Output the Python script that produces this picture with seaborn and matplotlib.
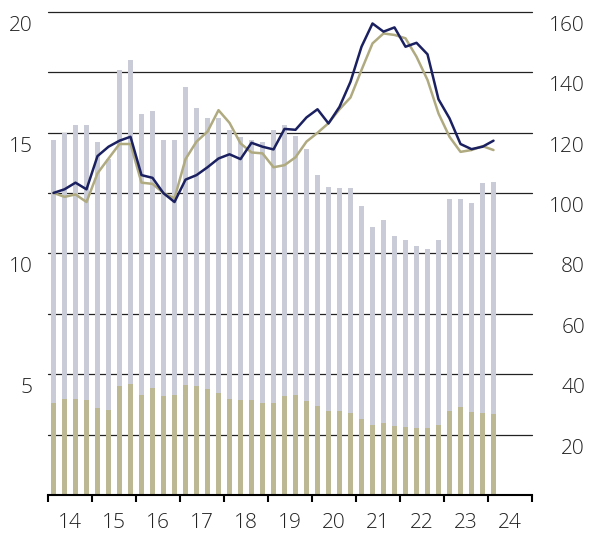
import numpy as np
import pandas as pd
import matplotlib
matplotlib.use("Agg")
import matplotlib.pyplot as plt
from matplotlib.transforms import ScaledTranslation
import seaborn as sns

# Quarterly observations, 2014Q1 - 2024Q1
quarters = pd.period_range("2014Q1", "2024Q1", freq="Q")

# Bars (left axis): total height and lower component
bar_total = [14.7, 15.0, 15.3, 15.3, 14.6, 13.9, 17.6, 18.0,
             15.75, 15.9, 14.7, 14.7, 16.9, 16.0, 15.6, 15.6,
             15.1, 14.8, 14.7, 14.6, 15.1, 15.3, 14.85, 14.3,
             13.25, 12.75, 12.7, 12.7, 11.95, 11.1, 11.4, 10.7,
             10.55, 10.3, 10.2, 10.55, 12.25, 12.25, 12.1, 12.9,
             12.95]
bar_lower = [3.81, 3.97, 3.97, 3.93, 3.6, 3.52, 4.51, 4.59,
             4.14, 4.43, 4.1, 4.14, 4.55, 4.51, 4.39, 4.22,
             3.97, 3.93, 3.93, 3.81, 3.81, 4.1, 4.14, 3.89,
             3.68, 3.47, 3.47, 3.39, 3.14, 2.9, 2.98, 2.85,
             2.81, 2.77, 2.77, 2.9, 3.47, 3.64, 3.43, 3.39,
             3.35]

# Index lines (right axis)
index_navy = [100.0, 101.2, 103.4, 101.2, 112.2, 115.3, 117.3, 118.6,
              105.9, 105.0, 99.9, 97.0, 104.4, 105.9, 108.5, 111.4,
              112.8, 111.2, 116.6, 115.3, 114.4, 121.2, 120.9, 125.0,
              127.7, 123.0, 128.5, 136.8, 148.4, 156.1, 153.4, 154.8,
              148.4, 149.7, 145.9, 131.0, 124.7, 116.2, 114.5, 115.3,
              117.3]
index_tan = [100.0, 98.7, 99.5, 97.0, 106.5, 111.4, 116.2, 116.2,
             103.4, 103.0, 100.0, 98.2, 111.2, 117.0, 120.3, 127.4,
             123.2, 116.4, 113.4, 113.1, 108.5, 109.2, 111.8, 117.0,
             119.9, 123.1, 127.7, 131.6, 140.7, 149.5, 152.8, 152.3,
             151.2, 145.1, 137.4, 126.3, 118.6, 113.6, 114.2, 115.5,
             114.2]

year_labels = ["14", "15", "16", "17", "18", "19", "20", "21", "22", "23", "24"]
left_ticks = [2.5, 5, 7.5, 10, 12.5, 15, 17.5, 20]
left_labels = ["", "5", "", "10", "", "15", "", "20"]
right_ticks = [20, 40, 60, 80, 100, 120, 140, 160]
right_labels = ["20", "40", "60", "80", "100", "120", "140", "160"]

GRAY = "#C9CBD6"
TAN = "#BCB894"
TAN_LINE = "#B0AA80"
NAVY = "#1A2060"
TEXT = "#222222"

sns.set_theme(style="white")
plt.rcParams["font.family"] = ["Open Sans", "DejaVu Sans"]
plt.rcParams["font.weight"] = "light"

df = pd.DataFrame({
    "pos": quarters.year + (quarters.quarter - 0.5) / 4,
    "total": bar_total,
    "lower": bar_lower,
    "navy": index_navy,
    "tan": index_tan,
})

fig = plt.figure(figsize=(5.89, 5.33), dpi=100)
ax = fig.add_axes([48 / 589, 1 - 495 / 533, (532 - 48) / 589, (495 - 11.7) / 533])
ax2 = ax.twinx()

sns.barplot(data=df, x="pos", y="total", native_scale=True, width=0.38,
            color=GRAY, saturation=1, linewidth=0, ax=ax)
sns.barplot(data=df, x="pos", y="lower", native_scale=True, width=0.38,
            color=TAN, saturation=1, linewidth=0, ax=ax)

sns.lineplot(data=df, x="pos", y="tan", color=TAN_LINE, lw=1.8, ax=ax2)
sns.lineplot(data=df, x="pos", y="navy", color=NAVY, lw=1.8, ax=ax2)

ax.set_xlim(2014, 2025)
ax.set_ylim(0, 20)
ax2.set_ylim(0, 160)
for a in (ax, ax2):
    a.set_xlabel("")
    a.set_ylabel("")
    for s in a.spines.values():
        s.set_visible(False)
ax.spines["bottom"].set_visible(True)
ax.spines["bottom"].set_color("black")
ax.spines["bottom"].set_linewidth(1.5)

# Horizontal grid behind the bars
ax.set_yticks(left_ticks, left_labels)
ax.set_axisbelow(True)
ax.yaxis.grid(True, color="#222222", lw=0.9)
for gl in ax.get_ygridlines():
    gl.set_clip_on(False)
ax2.set_yticks(right_ticks, right_labels)

# Year boundaries as ticks, year labels centred in between
ax.set_xticks(np.arange(2014, 2026), [""] * 12)
ax.set_xticks(np.arange(2014.5, 2025), year_labels, minor=True)
ax.tick_params(axis="x", which="major", direction="out", length=5, width=1.5,
               color="black", bottom=True)
ax.tick_params(axis="x", which="minor", length=0, pad=13, labelsize=15,
               labelcolor=TEXT)

ax.tick_params(axis="y", length=0, pad=10.8, labelsize=15, labelcolor=TEXT)
ax2.tick_params(axis="y", length=0, pad=38.2, labelsize=15, labelcolor=TEXT)

shift = ScaledTranslation(0, -0.19, fig.dpi_scale_trans)
for t in ax.get_yticklabels():
    t.set_va("baseline")
    t.set_transform(t.get_transform() + shift)
for t in ax2.get_yticklabels():
    t.set_va("baseline")
    t.set_ha("right")
    t.set_transform(t.get_transform() + shift)

fig.savefig("out.png", dpi=100)
